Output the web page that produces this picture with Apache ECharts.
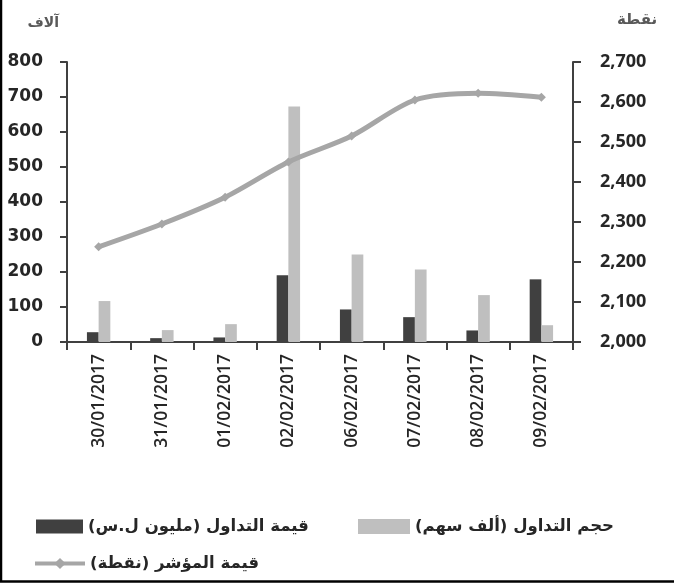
<!DOCTYPE html>
<html>
<head>
<meta charset="utf-8">
<script src="https://cdn.jsdelivr.net/npm/echarts@6/dist/echarts.min.js"></script>
<style>
html,body{margin:0;padding:0;background:#fff;}
#chart{width:674px;height:583px;}
</style>
</head>
<body>
<div id="chart"></div>
<script>
var categories = ['30/01/2017','31/01/2017','01/02/2017','02/02/2017','06/02/2017','07/02/2017','08/02/2017','09/02/2017'];
var tradeValue = [28, 11, 13, 191, 93, 71, 33, 179];      // قيمة التداول (مليون ل.س)
var tradeVolume = [117, 34, 51, 673, 250, 207, 134, 48];  // حجم التداول (ألف سهم)
var indexValue = [2238, 2295, 2362, 2450, 2515, 2605, 2622, 2612]; // قيمة المؤشر (نقطة)
var leftTicks = {min: 0, max: 800, interval: 100};
var rightTicks = {min: 2000, max: 2700, interval: 100};

var RLM = '\u200F';
var nameValue = RLM + 'قيمة التداول (مليون ل.س)' + RLM;
var nameVolume = RLM + 'حجم التداول (ألف سهم)' + RLM;
var nameIndex = RLM + 'قيمة المؤشر (نقطة)' + RLM;

var arFont = '"DejaVu Sans", sans-serif';
var numFont = '"Open Sans", sans-serif';
var axisColor = '#404040';
var textColor = '#262626';

var chart = echarts.init(document.getElementById('chart'), null, {renderer: 'canvas'});
var legendText = {fontFamily: arFont, fontWeight: 'bold', fontSize: 16.5, color: textColor};

chart.setOption({
  animation: false,
  backgroundColor: '#fff',
  grid: {left: 67, right: 101, top: 62, bottom: 241, containLabel: false},
  legend: [
    {data: [nameValue], left: 31, top: 513, itemWidth: 47, itemHeight: 14, itemGap: 4, textStyle: legendText, icon: 'rect', selectedMode: false},
    {data: [nameVolume], left: 353, top: 513, itemWidth: 52, itemHeight: 15, itemGap: 4, textStyle: legendText, icon: 'rect', selectedMode: false},
    {data: [nameIndex], left: 28, top: 550, itemWidth: 50, itemHeight: 14, itemGap: 4, textStyle: legendText, selectedMode: false,
     lineStyle: {width: 4, color: '#A6A6A6'}}
  ],
  xAxis: {
    type: 'category',
    data: categories,
    axisLine: {lineStyle: {color: axisColor, width: 2}},
    axisTick: {show: true, length: 8, lineStyle: {color: axisColor, width: 2}},
    axisLabel: {rotate: 90, margin: 12, interval: 0, fontFamily: numFont, fontWeight: 600, fontSize: 17.5, color: textColor}
  },
  yAxis: [
    {
      type: 'value', min: leftTicks.min, max: leftTicks.max, interval: leftTicks.interval,
      position: 'left',
      name: 'آلاف', nameLocation: 'end', nameGap: 32,
      nameTextStyle: {fontFamily: arFont, fontWeight: 'bold', fontSize: 14, color: '#595959', align: 'right', padding: [0, 8, 0, 0]},
      axisLine: {show: true, lineStyle: {color: axisColor, width: 2}},
      axisTick: {show: true, length: 7, lineStyle: {color: axisColor, width: 2}},
      splitLine: {show: false},
      axisLabel: {margin: 24, fontFamily: arFont, fontWeight: 'bold', fontSize: 17, color: textColor}
    },
    {
      type: 'value', min: rightTicks.min, max: rightTicks.max, interval: rightTicks.interval,
      position: 'right',
      name: 'نقطة', nameLocation: 'end', nameGap: 34,
      nameTextStyle: {fontFamily: arFont, fontWeight: 'bold', fontSize: 15, color: '#595959', align: 'left', padding: [0, 0, 0, 44]},
      axisLine: {show: true, lineStyle: {color: axisColor, width: 2}},
      axisTick: {show: true, length: 8, lineStyle: {color: axisColor, width: 2}},
      splitLine: {show: false},
      axisLabel: {margin: 27, fontFamily: numFont, fontWeight: 'bold', fontSize: 18, color: textColor,
        formatter: function (v) { return v.toLocaleString('en-US'); }}
    }
  ],
  series: [
    {name: nameValue, type: 'bar', data: tradeValue, yAxisIndex: 0, barGap: '0%', barCategoryGap: '63%',
     itemStyle: {color: '#404040'}},
    {name: nameVolume, type: 'bar', data: tradeVolume, yAxisIndex: 0, barGap: '0%', barCategoryGap: '63%',
     itemStyle: {color: '#BFBFBF'}},
    {name: nameIndex, type: 'line', data: indexValue, yAxisIndex: 1, smooth: 0.3,
     symbol: 'diamond', symbolSize: 9, showSymbol: true,
     lineStyle: {color: '#A6A6A6', width: 5}, itemStyle: {color: '#A6A6A6'}, z: 5}
  ],
  graphic: [
    {type: 'line', shape: {x1: 1, y1: 0, x2: 1, y2: 581}, style: {stroke: '#000', lineWidth: 2.5}, silent: true},
    {type: 'line', shape: {x1: 0, y1: 581.5, x2: 674, y2: 581.5}, style: {stroke: '#000', lineWidth: 2.5}, silent: true}
  ]
});
</script>
</body>
</html>
